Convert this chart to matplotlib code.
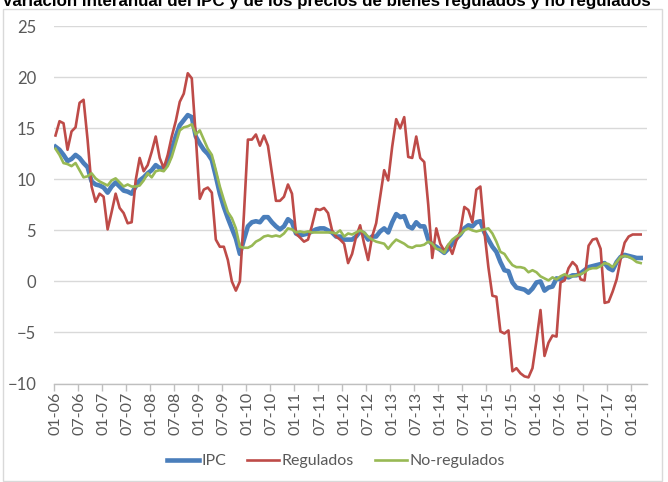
"""Variación interanual del IPC, regulados y no regulados (2006-2018)."""

import matplotlib

matplotlib.use("Agg")

import matplotlib.pyplot as plt  # noqa: E402
import numpy as np  # noqa: E402
from matplotlib.patches import Rectangle  # noqa: E402

TITLE = ("Variación interanual del IPC y de los precios de bienes "
         "regulados y no regulados")

tick_labels = [
    "01-06", "07-06", "01-07", "07-07", "01-08", "07-08", "01-09", "07-09",
    "01-10", "07-10", "01-11", "07-11", "01-12", "07-12", "01-13", "07-13",
    "01-14", "07-14", "01-15", "07-15", "01-16", "07-16", "01-17", "07-17",
    "01-18",
]

# monthly values, Jan 2006 -> Mar 2018
ipc = [
    13.2, 12.9, 12.4, 11.8, 12.0, 12.4, 12.1, 11.6, 11.2, 9.8,
    9.5, 9.4, 9.2, 8.7, 9.3, 9.7, 9.3, 8.9, 8.8, 8.6,
    9.3, 9.9, 10.2, 10.6, 10.9, 11.4, 11.1, 11.2, 11.6, 12.9,
    14.2, 15.3, 15.8, 16.3, 16.1, 14.2, 13.5, 12.9, 12.5, 11.9,
    10.3, 8.6, 7.3, 6.2, 5.2, 4.2, 2.7, 4.1, 5.4, 5.8,
    5.9, 5.8, 6.3, 6.3, 5.8, 5.4, 5.1, 5.4, 6.1, 5.8,
    4.7, 4.5, 4.6, 4.7, 4.9, 5.1, 5.2, 5.2, 5.0, 4.8,
    4.4, 4.4, 4.1, 4.1, 4.1, 4.4, 4.9, 4.7, 4.1, 4.4,
    4.4, 4.9, 5.2, 4.8, 5.8, 6.6, 6.3, 6.4, 5.4, 5.2,
    5.8, 5.4, 5.4, 4.1, 3.6, 3.4, 3.1, 2.8, 3.2, 3.7,
    4.2, 4.6, 5.2, 5.5, 5.4, 5.8, 5.9, 4.8, 4.1, 3.4,
    2.9, 1.9, 1.1, 1.0, -0.1, -0.6, -0.7, -0.8, -1.1, -0.7,
    -0.1, 0.0, -0.9, -0.6, -0.5, 0.3, 0.2, 0.5, 0.4, 0.6,
    0.6, 0.8, 1.1, 1.4, 1.5, 1.6, 1.7, 1.8, 1.3, 1.1,
    1.9, 2.4, 2.6, 2.5, 2.4, 2.3, 2.3,
]

regulados = [
    14.3, 15.7, 15.5, 12.9, 14.7, 15.1, 17.5, 17.8, 13.9, 9.3,
    7.8, 8.6, 8.3, 5.1, 6.8, 8.6, 7.2, 6.7, 5.7, 5.8,
    9.9, 12.1, 10.8, 11.4, 12.7, 14.2, 12.1, 11.1, 12.4, 14.2,
    15.7, 17.6, 18.4, 20.4, 19.9, 14.2, 8.1, 9.0, 9.2, 8.7,
    4.1, 3.4, 3.4, 2.1, 0.0, -0.9, 0.0, 6.5, 13.9, 13.9,
    14.4, 13.3, 14.3, 13.3, 10.6, 7.9, 7.9, 8.3, 9.5, 8.6,
    4.7, 4.3, 3.9, 4.1, 5.5, 7.1, 7.0, 7.2, 6.7, 5.0,
    4.4, 4.1, 3.7, 1.8, 2.7, 4.4, 5.5, 3.7, 2.1, 4.4,
    5.7, 8.3, 10.9, 9.9, 13.2, 15.9, 15.0, 16.1, 12.2, 12.1,
    14.2, 12.1, 11.7, 7.5, 2.3, 5.2, 3.7, 3.0, 3.6, 2.7,
    4.0, 4.9, 7.3, 7.0, 5.8, 9.0, 9.3, 4.9, 1.4, -1.4,
    -1.5, -4.9, -5.1, -4.8, -8.8, -8.5, -9.0, -9.3, -9.4, -8.5,
    -5.8, -2.8, -7.3, -6.0, -5.3, -5.4, -0.1, 0.1, 1.3, 1.9,
    1.5, 0.2, 0.1, 3.5, 4.1, 4.2, 3.2, -2.1, -2.0, -1.0,
    0.2, 2.2, 3.8, 4.4, 4.6, 4.6, 4.6,
]

no_regulados = [
    13.0, 12.4, 11.6, 11.5, 11.3, 11.6, 10.9, 10.2, 10.3, 10.6,
    10.1, 9.8, 9.6, 9.4, 9.9, 10.1, 9.7, 9.3, 9.5, 9.3,
    9.3, 9.4, 9.9, 10.6, 10.2, 10.8, 10.9, 10.8, 11.3, 12.2,
    13.5, 14.8, 15.1, 15.2, 15.4, 14.4, 14.8, 13.9, 13.0, 12.4,
    10.9, 9.3, 8.0, 6.8, 6.2, 5.2, 3.4, 3.3, 3.3, 3.5,
    3.9, 4.1, 4.4, 4.5, 4.4, 4.5, 4.4, 4.7, 5.2, 5.1,
    4.8, 4.9, 4.8, 4.9, 4.8, 4.8, 4.8, 4.8, 4.8, 4.8,
    4.7, 5.0, 4.4, 4.7, 4.6, 4.8, 5.0, 4.8, 4.4, 4.1,
    3.9, 3.8, 3.7, 3.2, 3.7, 4.1, 3.9, 3.7, 3.4, 3.3,
    3.5, 3.5, 3.6, 3.9, 3.7, 3.2, 3.1, 2.8, 3.6, 4.1,
    4.4, 4.6, 5.0, 5.2, 5.0, 4.9, 5.0, 5.1, 5.2, 4.7,
    3.9, 2.9, 2.7, 2.1, 1.6, 1.4, 1.4, 1.3, 0.9, 1.1,
    0.9, 0.5, 0.3, 0.1, 0.4, 0.2, 0.5, 0.7, 0.5, 0.5,
    0.6, 0.7, 0.9, 1.2, 1.3, 1.3, 1.5, 1.8, 1.7, 1.4,
    1.9, 2.4, 2.5, 2.4, 2.2, 1.9, 1.8,
]

BLUE = "#4A7EBB"
RED = "#BE4B48"
GREEN = "#98B954"
GRID = "#D9D9D9"
TEXT = "#595959"
FONT = ["Lato", "DejaVu Sans"]

x = np.arange(len(ipc))

W, H = 668, 482
fig = plt.figure(figsize=(W / 100, H / 100), dpi=100)
fig.patch.set_facecolor("white")

# plot area in pixels: left 53.5, right 646.7, top 26.3, bottom 383.5
ax = fig.add_axes([53.5 / W, 1 - 383.5 / H, (646.7 - 53.5) / W,
                   (383.5 - 26.3) / H])

ax.plot(x, ipc, color=BLUE, lw=3.3, label="IPC", solid_joinstyle="round")
ax.plot(x, regulados, color=RED, lw=1.9, label="Regulados",
        solid_joinstyle="round")
ax.plot(x, no_regulados, color=GREEN, lw=1.9, label="No-regulados",
        solid_joinstyle="round")

ax.set_ylim(-10, 25)
ax.set_yticks(range(-10, 26, 5))
ax.set_xlim(-0.5, 147.5)

label_pos = np.arange(len(tick_labels)) * 6
ax.set_xticks(label_pos)
ax.set_xticklabels(tick_labels, rotation=90, fontsize=11.5, color=TEXT,
                   family=FONT)
ax.set_xticks(np.arange(-0.5, 148, 6), minor=True)
ax.tick_params(axis="x", which="major", length=0, pad=6)
ax.tick_params(axis="x", which="minor", length=5, color="#BFBFBF",
               width=1)
ax.tick_params(axis="y", length=0, pad=12.5, labelcolor=TEXT)
for lab in ax.get_yticklabels():
    lab.set_fontsize(12)
    lab.set_family(FONT)

ax.yaxis.grid(True, color=GRID, lw=1)
ax.set_axisbelow(True)
for side in ("top", "left", "right"):
    ax.spines[side].set_visible(False)
ax.spines["bottom"].set_color("#BFBFBF")
ax.spines["bottom"].set_linewidth(1)

leg = fig.legend(loc="center", bbox_to_anchor=(336 / W, 1 - 461 / H),
                 ncol=3, frameon=False, handlelength=2.0, handletextpad=0.15,
                 columnspacing=1.3, prop={"family": FONT, "size": 11.5})
for t in leg.get_texts():
    t.set_color(TEXT)

# chart-area border
fig.patches.append(Rectangle((2.5 / W, 1 / H), 659.5 / W, 1 - 10 / H,
                             transform=fig.transFigure, fill=False,
                             edgecolor=GRID, lw=1))

# title sits mostly above the top edge, as in the original
fig.text(326 / W, 1 - 6 / H, TITLE, ha="center", va="baseline",
         fontsize=12.2, fontweight="bold", family="Liberation Sans",
         color="black")

fig.savefig("out.png", dpi=100, facecolor="white")
plt.close(fig)
